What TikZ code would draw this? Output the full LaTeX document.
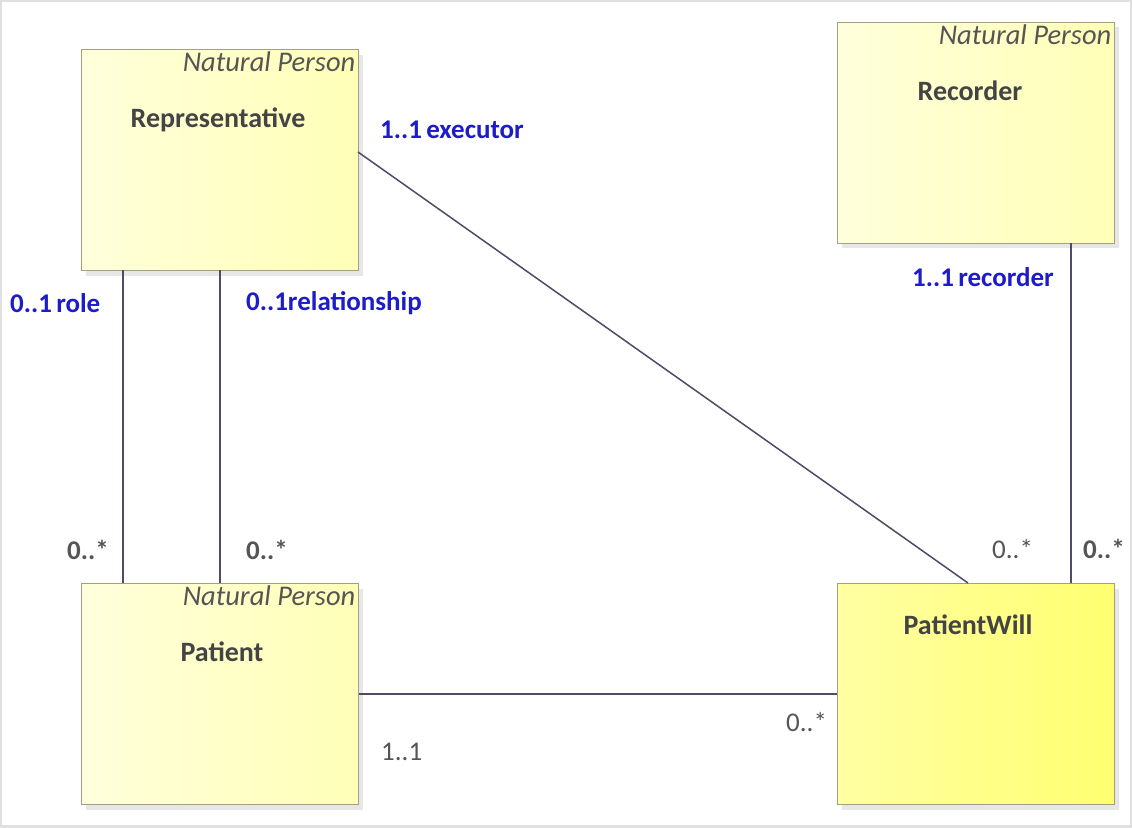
\documentclass[tikz,border=0pt]{standalone}
\usepackage{fontspec}
\setmainfont{Carlito}
\usetikzlibrary{shadows}

\definecolor{umlblue}{RGB}{28,28,200}
\definecolor{umlgray}{RGB}{85,85,85}
\definecolor{umledge}{RGB}{160,160,130}

\tikzset{
  classbox/.style={draw=umledge, line width=1pt, minimum width=277pt, minimum height=221pt,
    left color=yellow!14, right color=yellow!28,
    drop shadow={shadow xshift=5pt, shadow yshift=-5pt, fill=black!18}},
  willbox/.style={classbox, left color=yellow!36, right color=yellow!56},
  stereo/.style={font=\fontsize{28.5}{31}\selectfont\itshape, text=umlgray, inner sep=3pt},
  cname/.style={font=\fontsize{28}{31}\selectfont\bfseries, text=umlgray!80!black},
  role/.style={font=\fontsize{27}{30}\selectfont\bfseries, text=umlblue, inner sep=0pt},
  mult/.style={font=\fontsize{27}{30}\selectfont, text=umlgray, inner sep=0pt},
  bmult/.style={mult, font=\fontsize{27}{30}\selectfont\bfseries},
  assoc/.style={draw=umlgray!90!blue, line width=1.5pt}
}
\newcommand{\vsep}{\kern1pt{\color{umlgray}\tiny$\cdot$}\kern1pt}

\begin{document}
\begin{tikzpicture}[x=1pt, y=-1pt]
      % Frame
      \useasboundingbox (0,0) rectangle (1132,827);
      \fill[white] (0,0) rectangle (1132,827);
      \draw[black!12, line width=4pt] (0,0) rectangle (1132,827);
      % Classes
      \node[classbox] (rep) at (219.5,160) {};
      \node[classbox] (rec) at (975.5,132.5) {};
      \node[classbox] (pat) at (219.5,694) {};
      \node[willbox] (will) at (975.5,694) {};
      \node[stereo, anchor=north east] at (rep.north east) {Natural Person};
      \node[stereo, anchor=north east] at (rec.north east) {Natural Person};
      \node[stereo, anchor=north east] at (pat.north east) {Natural Person};
      \node[cname] at (218,120) {Representative};
      \node[cname] at (970,91) {Recorder};
      \node[cname] at (222,652) {Patient};
      \node[cname] at (968,625) {PatientWill};
      % Associations
      \coordinate (roleA) at (123,270);
      \coordinate (roleB) at (123,583);
      \coordinate (relA) at (220,270);
      \coordinate (relB) at (220,583);
      \coordinate (exeA) at (358,152);
      \coordinate (exeB) at (968,583);
      \coordinate (recA) at (1071,243);
      \coordinate (recB) at (1071,583);
      \draw[assoc] (roleA) -- (roleB);
      \draw[assoc] (relA) -- (relB);
      \draw[assoc] (exeA) -- (exeB);
      \draw[assoc] (recA) -- (recB);
      \draw[assoc] (pat.east) -- (will.west);
      % Role names
      \node[role, anchor=west] at (380,130) {1..1\vsep executor};
      \node[role, anchor=west] at (912,277) {1..1\vsep recorder};
      \node[role, anchor=west] at (10,303) {0..1\vsep role};
      \node[role, anchor=west] at (246,303) {0..1relationship};
      % Multiplicities
      \node[bmult, anchor=west] at (67,550) {0..*};
      \node[bmult, anchor=west] at (246,550) {0..*};
      \node[mult, anchor=west] at (992,549) {0..*};
      \node[bmult, anchor=west] at (1083,549) {0..*};
      \node[mult, anchor=west] at (786,722) {0..*};
      \node[mult, anchor=west] at (381,752) {1..1};
\end{tikzpicture}
\end{document}
